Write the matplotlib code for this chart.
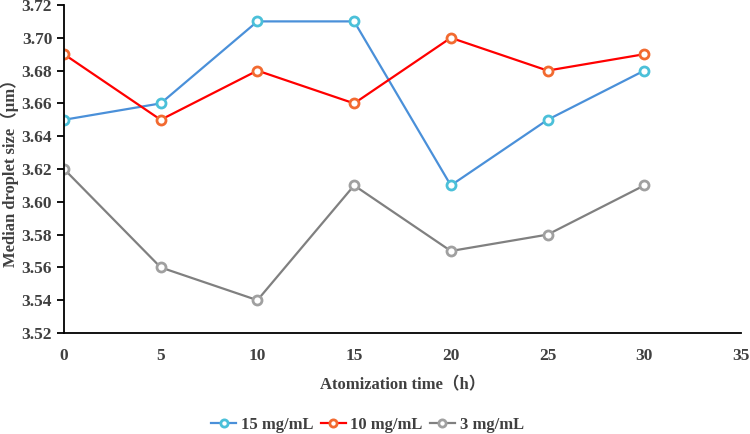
import matplotlib
matplotlib.use('Agg')
import matplotlib.pyplot as plt

# data
hours = [0, 5, 10, 15, 20, 25, 30]
s15 = [3.65, 3.66, 3.71, 3.71, 3.61, 3.65, 3.68]
s10 = [3.69, 3.65, 3.68, 3.66, 3.70, 3.68, 3.69]
s3 = [3.62, 3.56, 3.54, 3.61, 3.57, 3.58, 3.61]
labels = ['15 mg/mL', '10 mg/mL', '3 mg/mL']

plt.rcParams['font.family'] = ['Liberation Serif', 'Noto Sans CJK SC']
plt.rcParams['font.weight'] = 'bold'

fig = plt.figure(figsize=(7.5, 4.34), dpi=100)
ax = fig.add_axes([0.0853, 0.2327, 0.9027, 0.7558])

styles = [('#4A90D9', '#4BC0D9'), ('#FF0000', '#F26A30'), ('#808080', '#A0A0A0')]
for ys, lab, (lc, mc) in zip([s15, s10, s3], labels, styles):
    ax.plot(hours, ys, color=lc, lw=1.6, marker='o', ms=6.5, mfc='white',
            mec=mc, mew=2, label=lab)

ax.set_xlim(0, 35)
ax.set_ylim(3.52, 3.72)
ax.set_xticks(range(0, 36, 5))
ax.set_yticks([3.52 + 0.02 * i for i in range(11)])
ax.set_yticklabels(['%.2f' % (3.52 + 0.02 * i) for i in range(11)])
ax.spines['top'].set_visible(False)
ax.spines['right'].set_visible(False)
ax.spines['left'].set_linewidth(1.3)
ax.spines['bottom'].set_linewidth(1.3)
ax.tick_params(axis='y', length=5, width=1.3, labelsize=12.5, colors='black',
               labelcolor='#404040')
ax.tick_params(axis='x', length=0, pad=11, labelsize=12.5, labelcolor='#404040')
ax.set_xlabel('Atomization time（h）', fontsize=12, fontweight='bold', color='#404040')
ax.xaxis.set_label_coords(0.5, -0.135)
ax.set_ylabel('Median droplet size（μm）', fontsize=12, fontweight='bold', color='#404040')
ax.yaxis.set_label_coords(-0.066, 0.5)

fig.legend(loc='center', bbox_to_anchor=(0.49, 0.021), ncol=3, frameon=False,
           fontsize=12, handlelength=1.5, columnspacing=0.4, handletextpad=0.3,
           markerscale=0.8, labelcolor='#404040')

fig.savefig('out.png', dpi=100)
